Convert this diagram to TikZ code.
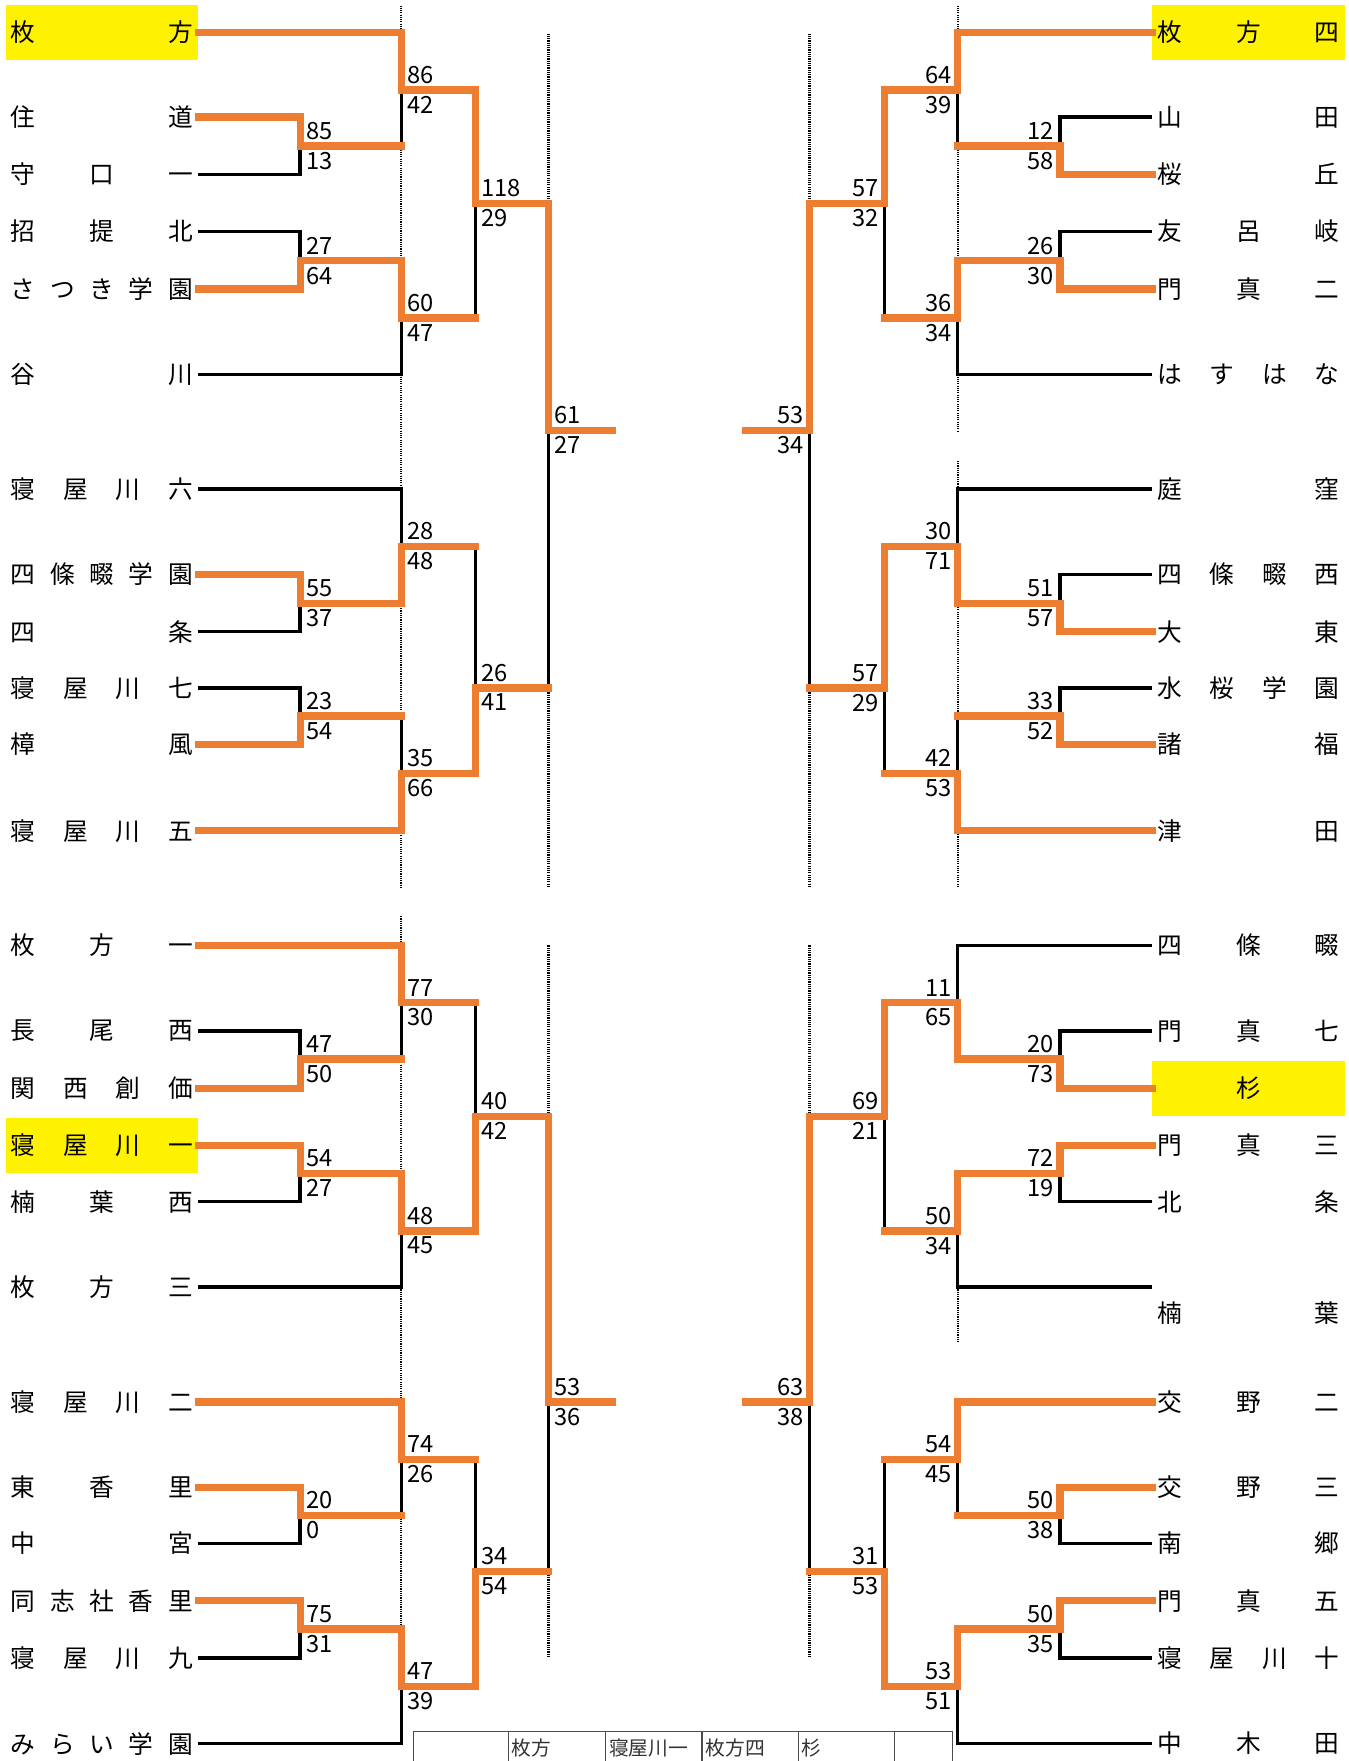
\documentclass[tikz,border=0pt]{standalone}
\usepackage{fontspec}
\setmainfont{Noto Sans CJK JP}
\usetikzlibrary{positioning}
\definecolor{winorange}{HTML}{ED7D31}
\tikzstyle{team} = [rectangle, minimum width=34.2mm, minimum height=9.8mm, inner sep=0pt, font=\fontsize{12.5}{15}\selectfont]
\tikzstyle{seed} = [team, fill=yellow]
\tikzstyle{lose} = [line width=0.6mm, black]
\tikzstyle{win} = [line width=1.3mm, winorange, line cap=rect]
\tikzstyle{guide} = [line width=0.4mm, black, dash pattern=on 0.2mm off 0.2mm]
\tikzstyle{score} = [inner sep=0pt, font=\fontsize{12}{14}\selectfont]
\tikzstyle{cell} = [inner sep=0pt, anchor=west, text=black!80, font=\fontsize{10}{12}\selectfont]

\newcommand{\nm}[1]{\makebox[32.4mm][s]{#1}}
\newcommand{\scL}[3]{%
  \node[score, anchor=base west] (#1a) at ([shift={(5,-6)}]#1) {#2};
  \node[score, anchor=north west] (#1b) at ([shift={(5,5)}]#1) {#3};}
\newcommand{\scR}[3]{%
  \node[score, anchor=base east] (#1a) at ([shift={(-5,-6)}]#1) {#2};
  \node[score, anchor=north east] (#1b) at ([shift={(-5,5)}]#1) {#3};}

\begin{document}
\begin{tikzpicture}[x=0.2mm, y=-0.2mm]
\useasboundingbox (0,0) rectangle (1200,1566.5);

% guide lines
\draw[guide] (357,5) -- (357,790);
\draw[guide] (488,30) -- (488,790);
\draw[guide] (720,30) -- (720,790);
\draw[guide] (852,5) -- (852,385);
\draw[guide] (852,410) -- (852,790);
\draw[guide] (357,815) -- (357,1551);
\draw[guide] (488,841) -- (488,1475);
\draw[guide] (720,841) -- (720,1475);
\draw[guide] (852,1145) -- (852,1195);

% teams, left top
\node[seed] (lt1) at (90.5,29) {\nm{枚\hfill 方}};
\node[team] (lt2) at (90.5,104) {\nm{住\hfill 道}};
\node[team] (lt3) at (90.5,155) {\nm{守\hfill 口\hfill 一}};
\node[team] (lt4) at (90.5,206) {\nm{招\hfill 提\hfill 北}};
\node[team] (lt5) at (90.5,257) {\nm{さ\hfill つ\hfill き\hfill 学\hfill 園}};
\node[team] (lt6) at (90.5,333) {\nm{谷\hfill 川}};
\node[team] (lt7) at (90.5,435) {\nm{寝\hfill 屋\hfill 川\hfill 六}};
\node[team] (lt8) at (90.5,511) {\nm{四\hfill 條\hfill 畷\hfill 学\hfill 園}};
\node[team] (lt9) at (90.5,562) {\nm{四\hfill 条}};
\node[team] (lt10) at (90.5,612) {\nm{寝\hfill 屋\hfill 川\hfill 七}};
\node[team] (lt11) at (90.5,662) {\nm{樟\hfill 風}};
\node[team] (lt12) at (90.5,739) {\nm{寝\hfill 屋\hfill 川\hfill 五}};

% teams, right top
\node[seed] (rt1) at (1110.5,29) {\nm{枚\hfill 方\hfill 四}};
\node[team] (rt2) at (1110.5,104) {\nm{山\hfill 田}};
\node[team] (rt3) at (1110.5,155) {\nm{桜\hfill 丘}};
\node[team] (rt4) at (1110.5,206) {\nm{友\hfill 呂\hfill 岐}};
\node[team] (rt5) at (1110.5,257) {\nm{門\hfill 真\hfill 二}};
\node[team] (rt6) at (1110.5,333) {\nm{は\hfill す\hfill は\hfill な}};
\node[team] (rt7) at (1110.5,435) {\nm{庭\hfill 窪}};
\node[team] (rt8) at (1110.5,511) {\nm{四\hfill 條\hfill 畷\hfill 西}};
\node[team] (rt9) at (1110.5,562) {\nm{大\hfill 東}};
\node[team] (rt10) at (1110.5,612) {\nm{水\hfill 桜\hfill 学\hfill 園}};
\node[team] (rt11) at (1110.5,662) {\nm{諸\hfill 福}};
\node[team] (rt12) at (1110.5,739) {\nm{津\hfill 田}};

% teams, left bottom
\node[team] (lb1) at (90.5,841) {\nm{枚\hfill 方\hfill 一}};
\node[team] (lb2) at (90.5,917) {\nm{長\hfill 尾\hfill 西}};
\node[team] (lb3) at (90.5,968) {\nm{関\hfill 西\hfill 創\hfill 価}};
\node[seed] (lb4) at (90.5,1019) {\nm{寝\hfill 屋\hfill 川\hfill 一}};
\node[team] (lb5) at (90.5,1069) {\nm{楠\hfill 葉\hfill 西}};
\node[team] (lb6) at (90.5,1145) {\nm{枚\hfill 方\hfill 三}};
\node[team] (lb7) at (90.5,1247) {\nm{寝\hfill 屋\hfill 川\hfill 二}};
\node[team] (lb8) at (90.5,1323) {\nm{東\hfill 香\hfill 里}};
\node[team] (lb9) at (90.5,1373) {\nm{中\hfill 宮}};
\node[team] (lb10) at (90.5,1424) {\nm{同\hfill 志\hfill 社\hfill 香\hfill 里}};
\node[team] (lb11) at (90.5,1475) {\nm{寝\hfill 屋\hfill 川\hfill 九}};
\node[team] (lb12) at (90.5,1551) {\nm{み\hfill ら\hfill い\hfill 学\hfill 園}};

% teams, right bottom
\node[team] (rb1) at (1110.5,841) {\nm{四\hfill 條\hfill 畷}};
\node[team] (rb2) at (1110.5,917) {\nm{門\hfill 真\hfill 七}};
\node[seed] (rb3) at (1110.5,968) {\nm{\hfill 杉\hfill}};
\node[team] (rb4) at (1110.5,1019) {\nm{門\hfill 真\hfill 三}};
\node[team] (rb5) at (1110.5,1069) {\nm{北\hfill 条}};
\node[team] (rb6) at (1110.5,1168) {\nm{楠\hfill 葉}};
\coordinate (rb6c) at (1025,1145);
\node[team] (rb7) at (1110.5,1247) {\nm{交\hfill 野\hfill 二}};
\node[team] (rb8) at (1110.5,1323) {\nm{交\hfill 野\hfill 三}};
\node[team] (rb9) at (1110.5,1373) {\nm{南\hfill 郷}};
\node[team] (rb10) at (1110.5,1424) {\nm{門\hfill 真\hfill 五}};
\node[team] (rb11) at (1110.5,1475) {\nm{寝\hfill 屋\hfill 川\hfill 十}};
\node[team] (rb12) at (1110.5,1551) {\nm{中\hfill 木\hfill 田}};

% match points
\coordinate (am1) at (267,130);
\coordinate (am2) at (267,232);
\coordinate (am3) at (357,80);
\coordinate (am4) at (357,283);
\coordinate (am5) at (423,181);
\coordinate (am6) at (488,383);
\coordinate (am7) at (267,537);
\coordinate (am8) at (357,486);
\coordinate (am9) at (267,637);
\coordinate (am10) at (357,688);
\coordinate (am11) at (423,612);
\coordinate (aend) at (545,383);

\coordinate (bm1) at (943,130);
\coordinate (bm2) at (943,232);
\coordinate (bm3) at (852,80);
\coordinate (bm4) at (852,283);
\coordinate (bm5) at (787,181);
\coordinate (bm6) at (720,383);
\coordinate (bm7) at (943,537);
\coordinate (bm8) at (852,486);
\coordinate (bm9) at (943,637);
\coordinate (bm10) at (852,688);
\coordinate (bm11) at (787,612);
\coordinate (bend) at (663,383);

\coordinate (cm1) at (267,942);
\coordinate (cm2) at (267,1044);
\coordinate (cm3) at (357,892);
\coordinate (cm4) at (357,1095);
\coordinate (cm5) at (423,993);
\coordinate (cm6) at (488,1247);
\coordinate (cm7) at (267,1348);
\coordinate (cm8) at (357,1298);
\coordinate (cm9) at (267,1449);
\coordinate (cm10) at (357,1500);
\coordinate (cm11) at (423,1398);
\coordinate (cend) at (545,1247);

\coordinate (dm1) at (943,942);
\coordinate (dm2) at (943,1044);
\coordinate (dm3) at (852,892);
\coordinate (dm4) at (852,1095);
\coordinate (dm5) at (787,993);
\coordinate (dm6) at (720,1247);
\coordinate (dm7) at (943,1348);
\coordinate (dm8) at (852,1298);
\coordinate (dm9) at (943,1449);
\coordinate (dm10) at (852,1500);
\coordinate (dm11) at (787,1398);
\coordinate (dend) at (663,1247);

% lost
\draw[lose] (lt3.east) -| (am1);
\draw[lose] (lt4.east) -| (am2);
\draw[lose] (am1 -| am3) -- (am3);
\draw[lose] (lt6.east) -| (am4);
\draw[lose] (am4 -| am5) -- (am5);
\draw[lose] (am11 -| am6) -- (am6);
\draw[lose] (lt9.east) -| (am7);
\draw[lose] (lt7.east) -| (am8);
\draw[lose] (lt10.east) -| (am9);
\draw[lose] (am9 -| am10) -- (am10);
\draw[lose] (am8 -| am11) -- (am11);

\draw[lose] (rt2.west) -| (bm1);
\draw[lose] (rt4.west) -| (bm2);
\draw[lose] (bm1 -| bm3) -- (bm3);
\draw[lose] (rt6.west) -| (bm4);
\draw[lose] (bm4 -| bm5) -- (bm5);
\draw[lose] (bm11 -| bm6) -- (bm6);
\draw[lose] (rt8.west) -| (bm7);
\draw[lose] (rt7.west) -| (bm8);
\draw[lose] (rt10.west) -| (bm9);
\draw[lose] (bm9 -| bm10) -- (bm10);
\draw[lose] (bm10 -| bm11) -- (bm11);

\draw[lose] (lb2.east) -| (cm1);
\draw[lose] (lb5.east) -| (cm2);
\draw[lose] (cm1 -| cm3) -- (cm3);
\draw[lose] (lb6.east) -| (cm4);
\draw[lose] (cm3 -| cm5) -- (cm5);
\draw[lose] (cm11 -| cm6) -- (cm6);
\draw[lose] (lb9.east) -| (cm7);
\draw[lose] (cm7 -| cm8) -- (cm8);
\draw[lose] (lb11.east) -| (cm9);
\draw[lose] (lb12.east) -| (cm10);
\draw[lose] (cm8 -| cm11) -- (cm11);

\draw[lose] (rb2.west) -| (dm1);
\draw[lose] (rb5.west) -| (dm2);
\draw[lose] (rb1.west) -| (dm3);
\draw[lose] (rb6c) -| (dm4);
\draw[lose] (dm4 -| dm5) -- (dm5);
\draw[lose] (dm11 -| dm6) -- (dm6);
\draw[lose] (rb9.west) -| (dm7);
\draw[lose] (dm7 -| dm8) -- (dm8);
\draw[lose] (rb11.west) -| (dm9);
\draw[lose] (rb12.west) -| (dm10);
\draw[lose] (dm8 -| dm11) -- (dm11);

% won
\draw[win] (lt2.east) -| (am1);
\draw[win] (lt5.east) -| (am2);
\draw[win] (lt1.east) -| (am3);
\draw[win] (am1) -- (am1 -| am3);
\draw[win] (am2) -| (am4);
\draw[win] (am3) -| (am5);
\draw[win] (am4) -- (am4 -| am5);
\draw[win] (am5) -| (am6) -- (aend);
\draw[win] (am11) -- (am11 -| am6);
\draw[win] (lt8.east) -| (am7);
\draw[win] (am7) -| (am8);
\draw[win] (lt11.east) -| (am9);
\draw[win] (am9) -- (am9 -| am10);
\draw[win] (lt12.east) -| (am10);
\draw[win] (am8) -- (am8 -| am11);
\draw[win] (am10) -| (am11);

\draw[win] (rt3.west) -| (bm1);
\draw[win] (rt5.west) -| (bm2);
\draw[win] (rt1.west) -| (bm3);
\draw[win] (bm1) -- (bm1 -| bm3);
\draw[win] (bm2) -| (bm4);
\draw[win] (bm3) -| (bm5);
\draw[win] (bm4) -- (bm4 -| bm5);
\draw[win] (bm5) -| (bm6) -- (bend);
\draw[win] (bm11) -- (bm11 -| bm6);
\draw[win] (rt9.west) -| (bm7);
\draw[win] (bm7) -| (bm8);
\draw[win] (rt11.west) -| (bm9);
\draw[win] (bm9) -- (bm9 -| bm10);
\draw[win] (rt12.west) -| (bm10);
\draw[win] (bm8) -| (bm11);
\draw[win] (bm10) -- (bm10 -| bm11);

\draw[win] (lb3.east) -| (cm1);
\draw[win] (lb4.east) -| (cm2);
\draw[win] (lb1.east) -| (cm3);
\draw[win] (cm1) -- (cm1 -| cm3);
\draw[win] (cm2) -| (cm4);
\draw[win] (cm3) -- (cm3 -| cm5);
\draw[win] (cm4) -| (cm5);
\draw[win] (cm5) -| (cm6) -- (cend);
\draw[win] (cm11) -- (cm11 -| cm6);
\draw[win] (lb8.east) -| (cm7);
\draw[win] (lb7.east) -| (cm8);
\draw[win] (cm7) -- (cm7 -| cm8);
\draw[win] (lb10.east) -| (cm9);
\draw[win] (cm9) -| (cm10);
\draw[win] (cm8) -- (cm8 -| cm11);
\draw[win] (cm10) -| (cm11);

\draw[win] (rb3.west) -| (dm1);
\draw[win] (rb4.west) -| (dm2);
\draw[win] (dm1) -| (dm3);
\draw[win] (dm2) -| (dm4);
\draw[win] (dm3) -| (dm5);
\draw[win] (dm4) -- (dm4 -| dm5);
\draw[win] (dm5) -| (dm6) -- (dend);
\draw[win] (dm11) -- (dm11 -| dm6);
\draw[win] (rb8.west) -| (dm7);
\draw[win] (rb7.west) -| (dm8);
\draw[win] (dm7) -- (dm7 -| dm8);
\draw[win] (rb10.west) -| (dm9);
\draw[win] (dm9) -| (dm10);
\draw[win] (dm8) -- (dm8 -| dm11);
\draw[win] (dm10) -| (dm11);

% scores
\scL{am1}{85}{13}
\scL{am2}{27}{64}
\scL{am3}{86}{42}
\scL{am4}{60}{47}
\scL{am5}{118}{29}
\scL{am6}{61}{27}
\scL{am7}{55}{37}
\scL{am8}{28}{48}
\scL{am9}{23}{54}
\scL{am10}{35}{66}
\scL{am11}{26}{41}

\scR{bm1}{12}{58}
\scR{bm2}{26}{30}
\scR{bm3}{64}{39}
\scR{bm4}{36}{34}
\scR{bm5}{57}{32}
\scR{bm6}{53}{34}
\scR{bm7}{51}{57}
\scR{bm8}{30}{71}
\scR{bm9}{33}{52}
\scR{bm10}{42}{53}
\scR{bm11}{57}{29}

\scL{cm1}{47}{50}
\scL{cm2}{54}{27}
\scL{cm3}{77}{30}
\scL{cm4}{48}{45}
\scL{cm5}{40}{42}
\scL{cm6}{53}{36}
\scL{cm7}{20}{0}
\scL{cm8}{74}{26}
\scL{cm9}{75}{31}
\scL{cm10}{47}{39}
\scL{cm11}{34}{54}

\scR{dm1}{20}{73}
\scR{dm2}{72}{19}
\scR{dm3}{11}{65}
\scR{dm4}{50}{34}
\scR{dm5}{69}{21}
\scR{dm6}{63}{38}
\scR{dm7}{50}{38}
\scR{dm8}{54}{45}
\scR{dm9}{50}{35}
\scR{dm10}{53}{51}
\scR{dm11}{31}{53}

% result table
\draw[black!70, line width=0.2mm] (367.5,1566.5) |- (847,1540.5) -- (847,1566.5);
\foreach \x in {452,538.5,624.5,710,795.5}
  \draw[black!70, line width=0.2mm] (\x,1540.5) -- (\x,1566.5);
\node[cell] (f1) at (455,1555) {枚方};
\node[cell] (f2) at (541.5,1555) {寝屋川一};
\node[cell] (f3) at (627.5,1555) {枚方四};
\node[cell] (f4) at (713,1555) {杉};
\end{tikzpicture}
\end{document}
